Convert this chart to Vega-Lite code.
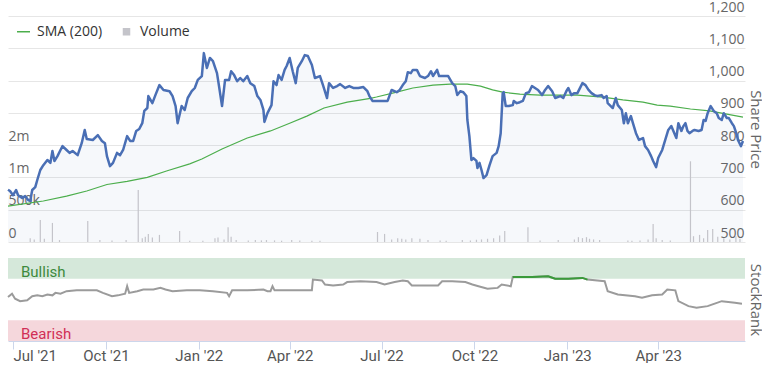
{
  "$schema": "https://vega.github.io/schema/vega-lite/v6.json",
  "padding": {"left": 4, "top": 0, "right": 0, "bottom": 0},
  "autosize": {"type": "pad"},
  "background": "white",
  "config": {
    "view": {"stroke": null},
    "font": "Open Sans",
    "concat": {"spacing": 16},
    "scale": {"continuousPadding": 0},
    "axis": {"labelFont": "Open Sans", "titleFont": "Open Sans", "labelOverlap": false}
  },
  "datasets": {
    "price": [
      {"date": "2021-06-26", "price": 662}, {"date": "2021-06-28", "price": 658}, {"date": "2021-07-01", "price": 645},
      {"date": "2021-07-04", "price": 661}, {"date": "2021-07-06", "price": 645}, {"date": "2021-07-10", "price": 636},
      {"date": "2021-07-13", "price": 642}, {"date": "2021-07-16", "price": 630}, {"date": "2021-07-18", "price": 627},
      {"date": "2021-07-20", "price": 661}, {"date": "2021-07-23", "price": 670}, {"date": "2021-07-25", "price": 692},
      {"date": "2021-07-28", "price": 723}, {"date": "2021-07-31", "price": 738}, {"date": "2021-08-04", "price": 754},
      {"date": "2021-08-07", "price": 745}, {"date": "2021-08-09", "price": 782}, {"date": "2021-08-11", "price": 751},
      {"date": "2021-08-14", "price": 766}, {"date": "2021-08-17", "price": 785}, {"date": "2021-08-19", "price": 797},
      {"date": "2021-08-23", "price": 785}, {"date": "2021-08-26", "price": 776}, {"date": "2021-08-29", "price": 782},
      {"date": "2021-09-03", "price": 769}, {"date": "2021-09-07", "price": 806}, {"date": "2021-09-10", "price": 847},
      {"date": "2021-09-12", "price": 819}, {"date": "2021-09-18", "price": 816}, {"date": "2021-09-23", "price": 831},
      {"date": "2021-09-27", "price": 813}, {"date": "2021-09-30", "price": 806}, {"date": "2021-10-02", "price": 766},
      {"date": "2021-10-05", "price": 735}, {"date": "2021-10-08", "price": 745}, {"date": "2021-10-12", "price": 776},
      {"date": "2021-10-15", "price": 769}, {"date": "2021-10-18", "price": 785}, {"date": "2021-10-22", "price": 828},
      {"date": "2021-10-25", "price": 813}, {"date": "2021-10-28", "price": 813}, {"date": "2021-10-31", "price": 844},
      {"date": "2021-11-03", "price": 850}, {"date": "2021-11-06", "price": 868}, {"date": "2021-11-08", "price": 906},
      {"date": "2021-11-11", "price": 915}, {"date": "2021-11-12", "price": 952}, {"date": "2021-11-16", "price": 930},
      {"date": "2021-11-19", "price": 955}, {"date": "2021-11-23", "price": 986}, {"date": "2021-11-27", "price": 971},
      {"date": "2021-12-03", "price": 967}, {"date": "2021-12-06", "price": 952}, {"date": "2021-12-09", "price": 921},
      {"date": "2021-12-11", "price": 868}, {"date": "2021-12-15", "price": 921}, {"date": "2021-12-18", "price": 909},
      {"date": "2021-12-21", "price": 946}, {"date": "2021-12-25", "price": 967}, {"date": "2021-12-28", "price": 977},
      {"date": "2021-12-31", "price": 1002}, {"date": "2022-01-04", "price": 1014}, {"date": "2022-01-06", "price": 1085},
      {"date": "2022-01-09", "price": 1039}, {"date": "2022-01-12", "price": 1070}, {"date": "2022-01-15", "price": 1060},
      {"date": "2022-01-19", "price": 1023}, {"date": "2022-01-21", "price": 983}, {"date": "2022-01-24", "price": 921},
      {"date": "2022-01-27", "price": 1002}, {"date": "2022-01-31", "price": 1002}, {"date": "2022-02-02", "price": 1029},
      {"date": "2022-02-05", "price": 1017}, {"date": "2022-02-08", "price": 998}, {"date": "2022-02-11", "price": 1008},
      {"date": "2022-02-14", "price": 998}, {"date": "2022-02-18", "price": 1014}, {"date": "2022-02-21", "price": 992},
      {"date": "2022-02-25", "price": 983}, {"date": "2022-02-28", "price": 952}, {"date": "2022-03-03", "price": 940},
      {"date": "2022-03-06", "price": 909}, {"date": "2022-03-07", "price": 872}, {"date": "2022-03-10", "price": 899},
      {"date": "2022-03-14", "price": 924}, {"date": "2022-03-16", "price": 998}, {"date": "2022-03-19", "price": 986},
      {"date": "2022-03-21", "price": 1017}, {"date": "2022-03-24", "price": 1002}, {"date": "2022-03-27", "price": 1033},
      {"date": "2022-03-29", "price": 1045}, {"date": "2022-04-01", "price": 1070}, {"date": "2022-04-04", "price": 1029},
      {"date": "2022-04-07", "price": 992}, {"date": "2022-04-09", "price": 1039}, {"date": "2022-04-13", "price": 1060},
      {"date": "2022-04-16", "price": 1079}, {"date": "2022-04-19", "price": 1076}, {"date": "2022-04-23", "price": 1048},
      {"date": "2022-04-26", "price": 1008}, {"date": "2022-05-01", "price": 1014}, {"date": "2022-05-04", "price": 986},
      {"date": "2022-05-08", "price": 946}, {"date": "2022-05-10", "price": 992}, {"date": "2022-05-14", "price": 977},
      {"date": "2022-05-18", "price": 983}, {"date": "2022-05-21", "price": 989}, {"date": "2022-05-26", "price": 977},
      {"date": "2022-05-30", "price": 983}, {"date": "2022-06-03", "price": 977}, {"date": "2022-06-08", "price": 977},
      {"date": "2022-06-13", "price": 980}, {"date": "2022-06-17", "price": 967}, {"date": "2022-06-19", "price": 952},
      {"date": "2022-06-22", "price": 937}, {"date": "2022-07-07", "price": 937}, {"date": "2022-07-11", "price": 971},
      {"date": "2022-07-16", "price": 964}, {"date": "2022-07-19", "price": 971}, {"date": "2022-07-22", "price": 986},
      {"date": "2022-07-25", "price": 998}, {"date": "2022-07-27", "price": 1026}, {"date": "2022-07-30", "price": 1023},
      {"date": "2022-08-01", "price": 1033}, {"date": "2022-08-05", "price": 1033}, {"date": "2022-08-08", "price": 1014},
      {"date": "2022-08-13", "price": 1008}, {"date": "2022-08-16", "price": 1014}, {"date": "2022-08-19", "price": 1029},
      {"date": "2022-08-21", "price": 1014}, {"date": "2022-08-25", "price": 1033}, {"date": "2022-08-27", "price": 1014},
      {"date": "2022-09-02", "price": 1014}, {"date": "2022-09-05", "price": 1014}, {"date": "2022-09-09", "price": 992},
      {"date": "2022-09-12", "price": 983}, {"date": "2022-09-14", "price": 955}, {"date": "2022-09-17", "price": 967},
      {"date": "2022-09-20", "price": 964}, {"date": "2022-09-23", "price": 952}, {"date": "2022-09-24", "price": 878},
      {"date": "2022-09-26", "price": 828}, {"date": "2022-09-28", "price": 754}, {"date": "2022-09-30", "price": 760},
      {"date": "2022-10-03", "price": 751}, {"date": "2022-10-04", "price": 729}, {"date": "2022-10-06", "price": 745},
      {"date": "2022-10-08", "price": 723}, {"date": "2022-10-10", "price": 698}, {"date": "2022-10-13", "price": 707},
      {"date": "2022-10-16", "price": 738}, {"date": "2022-10-19", "price": 766}, {"date": "2022-10-23", "price": 776},
      {"date": "2022-10-25", "price": 797}, {"date": "2022-10-27", "price": 837}, {"date": "2022-10-29", "price": 961},
      {"date": "2022-10-30", "price": 964}, {"date": "2022-11-01", "price": 921}, {"date": "2022-11-04", "price": 921},
      {"date": "2022-11-08", "price": 924}, {"date": "2022-11-09", "price": 937}, {"date": "2022-11-12", "price": 930},
      {"date": "2022-11-15", "price": 933}, {"date": "2022-11-18", "price": 937}, {"date": "2022-11-21", "price": 961},
      {"date": "2022-11-24", "price": 964}, {"date": "2022-11-27", "price": 983}, {"date": "2022-11-30", "price": 977},
      {"date": "2022-12-03", "price": 971}, {"date": "2022-12-07", "price": 955}, {"date": "2022-12-10", "price": 971},
      {"date": "2022-12-13", "price": 983}, {"date": "2022-12-17", "price": 967}, {"date": "2022-12-20", "price": 946},
      {"date": "2022-12-25", "price": 952}, {"date": "2022-12-28", "price": 946}, {"date": "2022-12-31", "price": 967},
      {"date": "2023-01-02", "price": 977}, {"date": "2023-01-05", "price": 955}, {"date": "2023-01-08", "price": 961},
      {"date": "2023-01-11", "price": 961}, {"date": "2023-01-16", "price": 992}, {"date": "2023-01-19", "price": 986},
      {"date": "2023-01-22", "price": 971}, {"date": "2023-01-25", "price": 961}, {"date": "2023-01-28", "price": 955},
      {"date": "2023-01-31", "price": 952}, {"date": "2023-02-04", "price": 955}, {"date": "2023-02-06", "price": 946},
      {"date": "2023-02-09", "price": 952}, {"date": "2023-02-10", "price": 930}, {"date": "2023-02-13", "price": 921},
      {"date": "2023-02-15", "price": 915}, {"date": "2023-02-18", "price": 946}, {"date": "2023-02-20", "price": 924},
      {"date": "2023-02-24", "price": 909}, {"date": "2023-02-26", "price": 868}, {"date": "2023-02-28", "price": 899},
      {"date": "2023-03-02", "price": 868}, {"date": "2023-03-05", "price": 890}, {"date": "2023-03-07", "price": 868},
      {"date": "2023-03-10", "price": 837}, {"date": "2023-03-13", "price": 816}, {"date": "2023-03-17", "price": 822},
      {"date": "2023-03-19", "price": 797}, {"date": "2023-03-22", "price": 785}, {"date": "2023-03-25", "price": 766},
      {"date": "2023-03-27", "price": 751}, {"date": "2023-03-30", "price": 732}, {"date": "2023-04-01", "price": 760},
      {"date": "2023-04-05", "price": 785}, {"date": "2023-04-08", "price": 816}, {"date": "2023-04-11", "price": 847},
      {"date": "2023-04-14", "price": 859}, {"date": "2023-04-17", "price": 837}, {"date": "2023-04-19", "price": 822},
      {"date": "2023-04-21", "price": 868}, {"date": "2023-04-24", "price": 844}, {"date": "2023-04-26", "price": 859},
      {"date": "2023-04-28", "price": 868}, {"date": "2023-04-30", "price": 844}, {"date": "2023-05-02", "price": 837},
      {"date": "2023-05-05", "price": 844}, {"date": "2023-05-07", "price": 847}, {"date": "2023-05-11", "price": 844},
      {"date": "2023-05-14", "price": 847}, {"date": "2023-05-16", "price": 878}, {"date": "2023-05-18", "price": 875},
      {"date": "2023-05-20", "price": 899}, {"date": "2023-05-23", "price": 921}, {"date": "2023-05-26", "price": 906},
      {"date": "2023-05-29", "price": 899}, {"date": "2023-05-31", "price": 884}, {"date": "2023-06-03", "price": 878},
      {"date": "2023-06-05", "price": 899}, {"date": "2023-06-08", "price": 884}, {"date": "2023-06-10", "price": 884},
      {"date": "2023-06-13", "price": 868}, {"date": "2023-06-15", "price": 859}, {"date": "2023-06-18", "price": 831},
      {"date": "2023-06-19", "price": 816}, {"date": "2023-06-22", "price": 797}, {"date": "2023-06-24", "price": 813}
    ],
    "sma": [
      {"date": "2021-06-26", "sma": 611}, {"date": "2021-07-31", "sma": 627}, {"date": "2021-08-23", "sma": 642},
      {"date": "2021-09-12", "sma": 658}, {"date": "2021-10-02", "sma": 678}, {"date": "2021-10-22", "sma": 688},
      {"date": "2021-11-11", "sma": 700}, {"date": "2021-11-30", "sma": 720}, {"date": "2021-12-23", "sma": 742},
      {"date": "2022-01-04", "sma": 757}, {"date": "2022-01-24", "sma": 788}, {"date": "2022-02-18", "sma": 822},
      {"date": "2022-03-13", "sma": 844}, {"date": "2022-04-01", "sma": 868}, {"date": "2022-04-18", "sma": 890},
      {"date": "2022-05-05", "sma": 915}, {"date": "2022-05-28", "sma": 933}, {"date": "2022-06-20", "sma": 945},
      {"date": "2022-06-26", "sma": 949}, {"date": "2022-07-16", "sma": 964}, {"date": "2022-08-01", "sma": 977},
      {"date": "2022-08-21", "sma": 986}, {"date": "2022-09-07", "sma": 989}, {"date": "2022-09-24", "sma": 989},
      {"date": "2022-10-07", "sma": 983}, {"date": "2022-10-19", "sma": 971}, {"date": "2022-10-29", "sma": 964},
      {"date": "2022-11-15", "sma": 958}, {"date": "2022-12-05", "sma": 955}, {"date": "2022-12-25", "sma": 955},
      {"date": "2023-01-11", "sma": 955}, {"date": "2023-02-05", "sma": 949}, {"date": "2023-02-25", "sma": 940},
      {"date": "2023-03-17", "sma": 933}, {"date": "2023-03-31", "sma": 924}, {"date": "2023-04-13", "sma": 921},
      {"date": "2023-05-03", "sma": 912}, {"date": "2023-05-22", "sma": 906}, {"date": "2023-06-08", "sma": 896},
      {"date": "2023-06-24", "sma": 887}
    ],
    "volume": [
      {"date": "2021-07-18", "volume": 60000}, {"date": "2021-07-22", "volume": 40000}, {"date": "2021-07-28", "volume": 340000},
      {"date": "2021-08-01", "volume": 50000}, {"date": "2021-08-09", "volume": 295000}, {"date": "2021-08-16", "volume": 30000},
      {"date": "2021-09-13", "volume": 325000}, {"date": "2021-09-25", "volume": 30000}, {"date": "2021-10-07", "volume": 25000},
      {"date": "2021-10-21", "volume": 30000}, {"date": "2021-11-02", "volume": 805000}, {"date": "2021-11-06", "volume": 60000},
      {"date": "2021-11-09", "volume": 80000}, {"date": "2021-11-12", "volume": 125000}, {"date": "2021-11-16", "volume": 70000},
      {"date": "2021-11-23", "volume": 110000}, {"date": "2021-12-13", "volume": 170000}, {"date": "2021-12-23", "volume": 20000},
      {"date": "2022-01-05", "volume": 20000}, {"date": "2022-01-17", "volume": 60000}, {"date": "2022-01-20", "volume": 70000},
      {"date": "2022-01-26", "volume": 40000}, {"date": "2022-01-30", "volume": 230000}, {"date": "2022-02-02", "volume": 80000},
      {"date": "2022-02-07", "volume": 30000}, {"date": "2022-02-19", "volume": 25000}, {"date": "2022-02-26", "volume": 30000},
      {"date": "2022-03-04", "volume": 25000}, {"date": "2022-03-09", "volume": 30000}, {"date": "2022-03-17", "volume": 25000},
      {"date": "2022-03-24", "volume": 20000}, {"date": "2022-04-03", "volume": 30000}, {"date": "2022-04-11", "volume": 25000},
      {"date": "2022-04-23", "volume": 20000}, {"date": "2022-05-01", "volume": 20000}, {"date": "2022-06-27", "volume": 155000},
      {"date": "2022-07-04", "volume": 125000}, {"date": "2022-07-11", "volume": 40000}, {"date": "2022-07-17", "volume": 60000},
      {"date": "2022-07-21", "volume": 50000}, {"date": "2022-07-25", "volume": 40000}, {"date": "2022-07-31", "volume": 60000},
      {"date": "2022-08-08", "volume": 50000}, {"date": "2022-08-16", "volume": 30000}, {"date": "2022-08-28", "volume": 25000},
      {"date": "2022-09-03", "volume": 20000}, {"date": "2022-09-19", "volume": 30000}, {"date": "2022-09-27", "volume": 25000},
      {"date": "2022-10-03", "volume": 35000}, {"date": "2022-10-08", "volume": 40000}, {"date": "2022-10-14", "volume": 50000},
      {"date": "2022-10-20", "volume": 60000}, {"date": "2022-10-26", "volume": 100000}, {"date": "2022-10-31", "volume": 170000},
      {"date": "2022-11-23", "volume": 230000}, {"date": "2022-12-05", "volume": 25000}, {"date": "2022-12-23", "volume": 30000},
      {"date": "2023-01-08", "volume": 40000}, {"date": "2023-01-12", "volume": 75000}, {"date": "2023-01-16", "volume": 60000},
      {"date": "2023-01-20", "volume": 75000}, {"date": "2023-01-23", "volume": 50000}, {"date": "2023-01-27", "volume": 40000},
      {"date": "2023-02-02", "volume": 30000}, {"date": "2023-03-02", "volume": 25000}, {"date": "2023-03-06", "volume": 20000},
      {"date": "2023-03-14", "volume": 25000}, {"date": "2023-03-22", "volume": 40000}, {"date": "2023-03-27", "volume": 280000},
      {"date": "2023-03-30", "volume": 60000}, {"date": "2023-04-05", "volume": 30000}, {"date": "2023-04-13", "volume": 25000},
      {"date": "2023-05-03", "volume": 1250000}, {"date": "2023-05-06", "volume": 90000}, {"date": "2023-05-12", "volume": 110000},
      {"date": "2023-05-16", "volume": 60000}, {"date": "2023-05-20", "volume": 185000}, {"date": "2023-05-25", "volume": 200000},
      {"date": "2023-05-30", "volume": 80000}, {"date": "2023-06-05", "volume": 60000}, {"date": "2023-06-11", "volume": 40000},
      {"date": "2023-06-17", "volume": 90000}, {"date": "2023-06-21", "volume": 50000}
    ],
    "rank": [
      {"date": "2021-06-26", "rank": 53}, {"date": "2021-06-30", "rank": 57}, {"date": "2021-07-03", "rank": 51},
      {"date": "2021-07-08", "rank": 48}, {"date": "2021-07-15", "rank": 49}, {"date": "2021-07-20", "rank": 54},
      {"date": "2021-07-25", "rank": 55}, {"date": "2021-07-30", "rank": 54}, {"date": "2021-08-04", "rank": 56},
      {"date": "2021-08-09", "rank": 55}, {"date": "2021-08-12", "rank": 58}, {"date": "2021-08-17", "rank": 57},
      {"date": "2021-08-23", "rank": 60}, {"date": "2021-09-02", "rank": 61}, {"date": "2021-09-12", "rank": 61},
      {"date": "2021-09-22", "rank": 61}, {"date": "2021-09-28", "rank": 58}, {"date": "2021-10-07", "rank": 54},
      {"date": "2021-10-13", "rank": 55}, {"date": "2021-10-20", "rank": 57}, {"date": "2021-10-22", "rank": 66},
      {"date": "2021-10-24", "rank": 58}, {"date": "2021-11-01", "rank": 60}, {"date": "2021-11-07", "rank": 62},
      {"date": "2021-11-17", "rank": 62}, {"date": "2021-11-24", "rank": 64}, {"date": "2021-11-29", "rank": 62},
      {"date": "2021-12-06", "rank": 60}, {"date": "2021-12-20", "rank": 61}, {"date": "2022-01-02", "rank": 61},
      {"date": "2022-01-15", "rank": 60}, {"date": "2022-01-29", "rank": 58}, {"date": "2022-01-31", "rank": 54},
      {"date": "2022-02-03", "rank": 61}, {"date": "2022-02-18", "rank": 61}, {"date": "2022-03-06", "rank": 62},
      {"date": "2022-03-10", "rank": 60}, {"date": "2022-03-13", "rank": 60}, {"date": "2022-03-15", "rank": 66},
      {"date": "2022-03-17", "rank": 61}, {"date": "2022-03-29", "rank": 61}, {"date": "2022-04-11", "rank": 61},
      {"date": "2022-04-23", "rank": 61}, {"date": "2022-04-24", "rank": 74}, {"date": "2022-05-03", "rank": 73},
      {"date": "2022-05-06", "rank": 68}, {"date": "2022-05-14", "rank": 67}, {"date": "2022-05-24", "rank": 68},
      {"date": "2022-05-28", "rank": 71}, {"date": "2022-06-10", "rank": 72}, {"date": "2022-06-26", "rank": 71},
      {"date": "2022-07-04", "rank": 68}, {"date": "2022-07-14", "rank": 71}, {"date": "2022-07-22", "rank": 73},
      {"date": "2022-07-27", "rank": 72}, {"date": "2022-07-31", "rank": 67}, {"date": "2022-08-10", "rank": 67},
      {"date": "2022-08-26", "rank": 67}, {"date": "2022-08-30", "rank": 72}, {"date": "2022-09-09", "rank": 72},
      {"date": "2022-09-22", "rank": 71}, {"date": "2022-09-29", "rank": 68}, {"date": "2022-10-05", "rank": 66},
      {"date": "2022-10-14", "rank": 63}, {"date": "2022-10-24", "rank": 64}, {"date": "2022-10-28", "rank": 68},
      {"date": "2022-11-06", "rank": 66}, {"date": "2022-11-08", "rank": 77}, {"date": "2022-11-27", "rank": 77},
      {"date": "2022-12-13", "rank": 78}, {"date": "2022-12-20", "rank": 75}, {"date": "2023-01-02", "rank": 75},
      {"date": "2023-01-16", "rank": 76}, {"date": "2023-01-21", "rank": 74}, {"date": "2023-02-07", "rank": 72},
      {"date": "2023-02-10", "rank": 60}, {"date": "2023-02-20", "rank": 56}, {"date": "2023-03-09", "rank": 54},
      {"date": "2023-03-16", "rank": 52}, {"date": "2023-03-26", "rank": 55}, {"date": "2023-04-05", "rank": 56},
      {"date": "2023-04-10", "rank": 62}, {"date": "2023-04-18", "rank": 61}, {"date": "2023-04-21", "rank": 48},
      {"date": "2023-05-01", "rank": 42}, {"date": "2023-05-09", "rank": 40}, {"date": "2023-05-20", "rank": 42},
      {"date": "2023-05-27", "rank": 45}, {"date": "2023-06-03", "rank": 48}, {"date": "2023-06-16", "rank": 46},
      {"date": "2023-06-23", "rank": 45}
    ],
    "bands": [
      {"band": "Bullish", "lo": 75, "hi": 100},
      {"band": "Bearish", "lo": 0, "hi": 25}
    ]
  },
  "vconcat": [
    {
      "width": 737,
      "height": 226,
      "layer": [
        {
          "data": {"name": "price"},
          "mark": {"type": "area", "fill": "#4a6fb5", "fillOpacity": 0.05},
          "encoding": {
            "x": {"field": "date", "type": "temporal", "axis": null,
                  "scale": {"domain": [{"year": 2021, "month": 6, "date": 26}, {"year": 2023, "month": 6, "date": 26}], "nice": false, "padding": 0}},
            "y": {"field": "price", "type": "quantitative",
                  "scale": {"domain": [500, 1200], "zero": false, "nice": false},
                  "axis": {"orient": "right", "values": [500, 600, 700, 800, 900, 1000, 1100, 1200],
                           "grid": true, "gridColor": "#e6e6e6", "domain": false, "ticks": false, "tickSize": 0,
                           "labelAlign": "right", "labelBaseline": "bottom", "labelPadding": -1, "labelOffset": -2,
                           "labelOverlap": false, "labelBound": false,
                           "labelExpr": "format(datum.value, ',')",
                           "labelFontSize": 14, "labelColor": "#666666",
                           "title": "Share Price", "titleFontSize": 15, "titleFontWeight": "normal",
                           "titleColor": "#666666", "titlePadding": 2}},
            "y2": {"datum": 500}
          }
        },
        {
          "data": {"name": "volume"},
          "mark": {"type": "bar", "size": 1.2},
          "encoding": {
            "x": {"field": "date", "type": "temporal", "axis": null},
            "y": {"field": "volume", "type": "quantitative",
                  "scale": {"domain": [0, 3500000], "nice": false},
                  "axis": {"orient": "left", "values": [0, 500000, 1000000, 1500000],
                           "labelExpr": "datum.value == 0 ? '0' : datum.value == 500000 ? '500k' : datum.value == 1000000 ? '1m' : '2m'",
                           "grid": false, "domain": false, "ticks": false, "tickSize": 0,
                           "labelAlign": "left", "labelBaseline": "bottom", "labelPadding": 0, "labelOffset": -2,
                           "labelOverlap": false, "labelBound": false,
                           "labelFontSize": 14, "labelColor": "#666666", "title": null}},
            "color": {"datum": "Volume", "type": "nominal",
                      "scale": {"domain": ["SMA (200)", "Volume"], "range": ["#4cae4c", "#c4c4ca"]},
                      "legend": {"orient": "top-left", "offset": 8, "direction": "horizontal", "title": null,
                                 "labelFontSize": 14, "labelColor": "#333333", "labelFont": "Open Sans",
                                 "columnPadding": 16, "labelOffset": 6, "padding": 0,
                                 "symbolStrokeWidth": 1.5,
                                 "encode": {"symbols": {"update": {
                                   "shape": {"signal": "datum.value === 'Volume' ? 'square' : 'stroke'"},
                                   "size": {"signal": "datum.value === 'Volume' ? 36 : 169"},
                                   "fill": {"signal": "datum.value === 'Volume' ? '#b9b9bf' : 'transparent'"},
                                   "stroke": {"signal": "datum.value === 'Volume' ? 'transparent' : '#4cae4c'"},
                                   "strokeWidth": {"value": 1.5},
                                   "opacity": {"value": 1}
                                 }}}}}
          }
        },
        {
          "data": {"name": "sma"},
          "mark": {"type": "line", "strokeWidth": 1.2},
          "encoding": {
            "x": {"field": "date", "type": "temporal", "axis": null},
            "y": {"field": "sma", "type": "quantitative", "axis": null,
                  "scale": {"domain": [500, 1200], "zero": false, "nice": false}},
            "color": {"datum": "SMA (200)", "type": "nominal"}
          }
        },
        {
          "data": {"name": "price"},
          "mark": {"type": "line", "color": "#4a6fb5", "strokeWidth": 2.5, "strokeJoin": "round"},
          "encoding": {
            "x": {"field": "date", "type": "temporal", "axis": null},
            "y": {"field": "price", "type": "quantitative", "axis": null,
                  "scale": {"domain": [500, 1200], "zero": false, "nice": false}}
          }
        }
      ],
      "resolve": {"scale": {"y": "independent"}, "axis": {"y": "independent"}}
    },
    {
      "width": 737,
      "height": 83,
      "layer": [
        {
          "data": {"name": "bands"},
          "mark": {"type": "rect"},
          "encoding": {
            "y": {"field": "lo", "type": "quantitative",
                  "scale": {"domain": [0, 100], "nice": false},
                  "axis": {"orient": "right", "values": [0],
                           "grid": false, "domain": false, "ticks": false, "tickSize": 0,
                           "labelAlign": "right", "labelBaseline": "bottom", "labelPadding": -2, "labelOffset": -2,
                           "labelOverlap": false, "labelBound": false,
                           "labelFontSize": 14, "labelColor": "#666666",
                           "title": "StockRank", "titleFontSize": 15, "titleFontWeight": "normal",
                           "titleColor": "#666666", "titlePadding": 2}},
            "y2": {"field": "hi"},
            "fill": {"field": "band", "type": "nominal",
                     "scale": {"domain": ["Bullish", "Bearish"], "range": ["#d5e8da", "#f5d7dc"]},
                     "legend": null}
          }
        },
        {
          "mark": {"type": "rule", "color": "#e6e6e6", "strokeWidth": 1},
          "encoding": {"y": {"datum": 100}}
        },
        {
          "data": {"name": "bands"},
          "mark": {"type": "text", "align": "left", "baseline": "alphabetic", "dx": 13, "dy": -2,
                   "fontSize": 15, "font": "Roboto"},
          "encoding": {
            "x": {"datum": {"year": 2021, "month": 6, "date": 26}, "type": "temporal"},
            "y": {"field": "lo", "type": "quantitative"},
            "text": {"field": "band"},
            "color": {"field": "band", "type": "nominal",
                      "scale": {"domain": ["Bullish", "Bearish"], "range": ["#3d8a3d", "#d12f56"]},
                      "legend": null}
          }
        },
        {
          "data": {"name": "rank"},
          "mark": {"type": "line", "color": "#9b9b9b", "strokeWidth": 2},
          "encoding": {
            "x": {"field": "date", "type": "temporal",
                  "scale": {"domain": [{"year": 2021, "month": 6, "date": 26}, {"year": 2023, "month": 6, "date": 26}], "nice": false, "padding": 0},
                  "axis": {"title": null, "format": "%b '%y", "tickCount": {"interval": "month", "step": 3},
                           "grid": false, "domain": true, "domainColor": "#ccd6eb", "ticks": true, "tickColor": "#ccd6eb",
                           "tickSize": 8, "labelFont": "Roboto", "labelFontSize": 15,
                           "labelColor": "#555555", "labelPadding": -1, "labelFlush": 10}},
            "y": {"field": "rank", "type": "quantitative"}
          }
        },
        {
          "data": {"name": "rank"},
          "transform": [{"filter": "datum.date >= datetime(2022, 10, 8) && datum.date <= datetime(2023, 0, 21)"}],
          "mark": {"type": "line", "color": "#3a9a3a", "strokeWidth": 2},
          "encoding": {
            "x": {"field": "date", "type": "temporal"},
            "y": {"field": "rank", "type": "quantitative"}
          }
        }
      ]
    }
  ],
  "resolve": {"scale": {"x": "shared", "y": "independent", "color": "independent", "fill": "independent"}}
}
